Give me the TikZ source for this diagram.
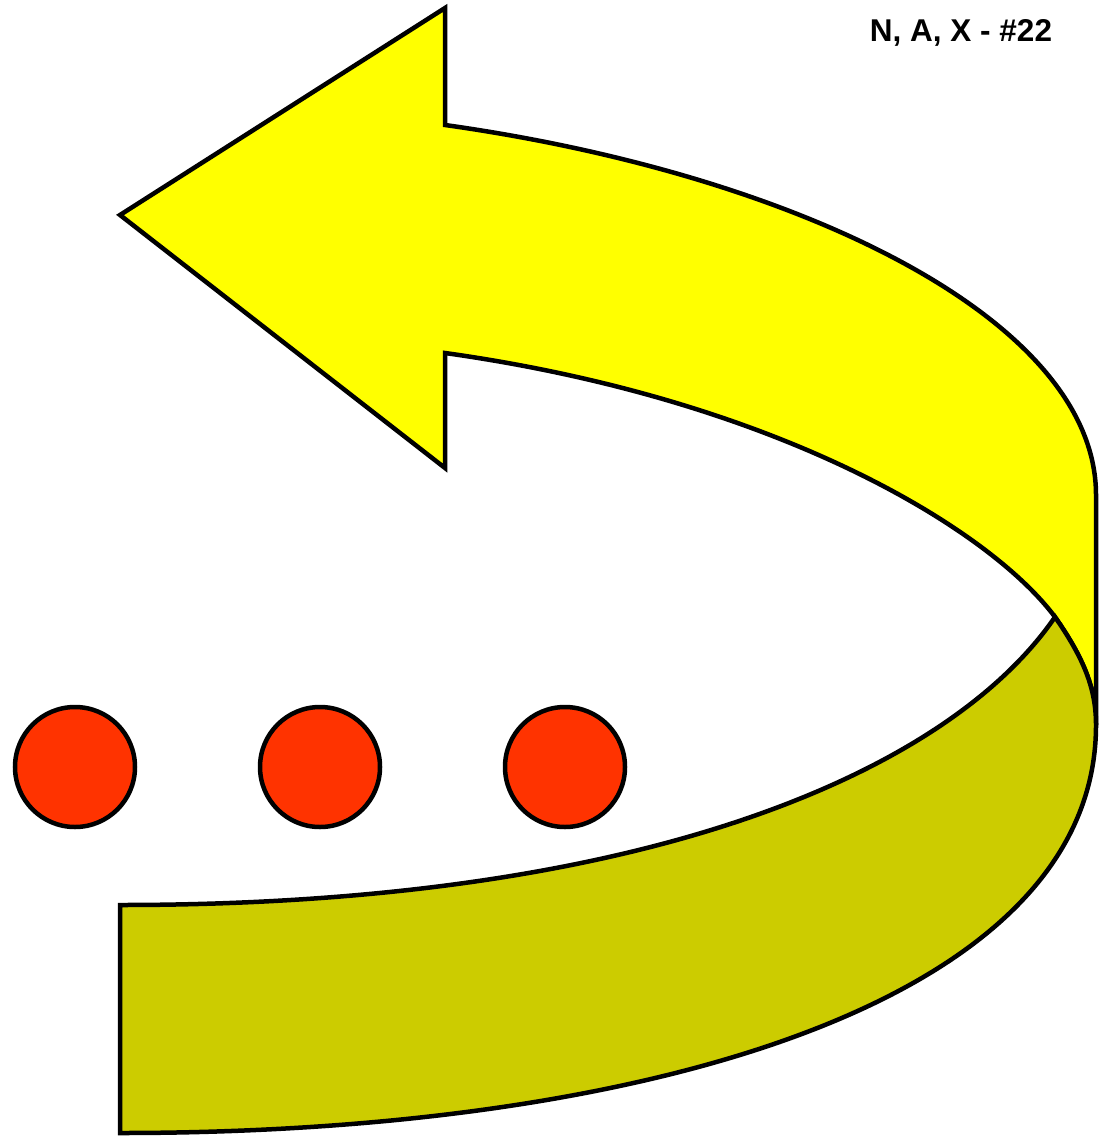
\documentclass[tikz,border=0pt]{standalone}
\usepackage{fontspec}
\setmainfont{Liberation Sans}
\begin{document}
\begin{tikzpicture}[x=1pt,y=-1pt,line join=miter,
  outl/.style={draw=black,line width=4.5pt},
  dot/.style={circle,outl,fill=redc,minimum size=120pt,inner sep=0pt}]
\definecolor{yel}{HTML}{FFFF00}
\definecolor{olive}{HTML}{CCCC00}
\definecolor{redc}{HTML}{FF3300}
\useasboundingbox (0,0) rectangle (1110,1139);
% top part with arrowhead
\path[outl,fill=yel] (120,215) -- (445,8) -- (445,125)
  .. controls (800,175) and (1096,320) .. (1096,495) -- (1096,725)
  .. controls (1096,690) and (1085,660) .. (1055,617)
  .. controls (990,530) and (780,400) .. (445,353)
  -- (445,468) -- cycle;
% bottom part
\path[outl,fill=olive] (120,905)
  .. controls (650,905) and (950,770) .. (1055,617)
  .. controls (1085,660) and (1096,690) .. (1096,725)
  .. controls (1096,1000) and (650,1133) .. (120,1133) -- cycle;
\node[dot] (c1) at (75,767) {};
\node[dot] (c2) at (320,767) {};
\node[dot] (c3) at (565,767) {};
\node[font=\bfseries\fontsize{31.5}{34}\selectfont] (t) at (961,33) {N, A, X - \#22};
\end{tikzpicture}
\end{document}
